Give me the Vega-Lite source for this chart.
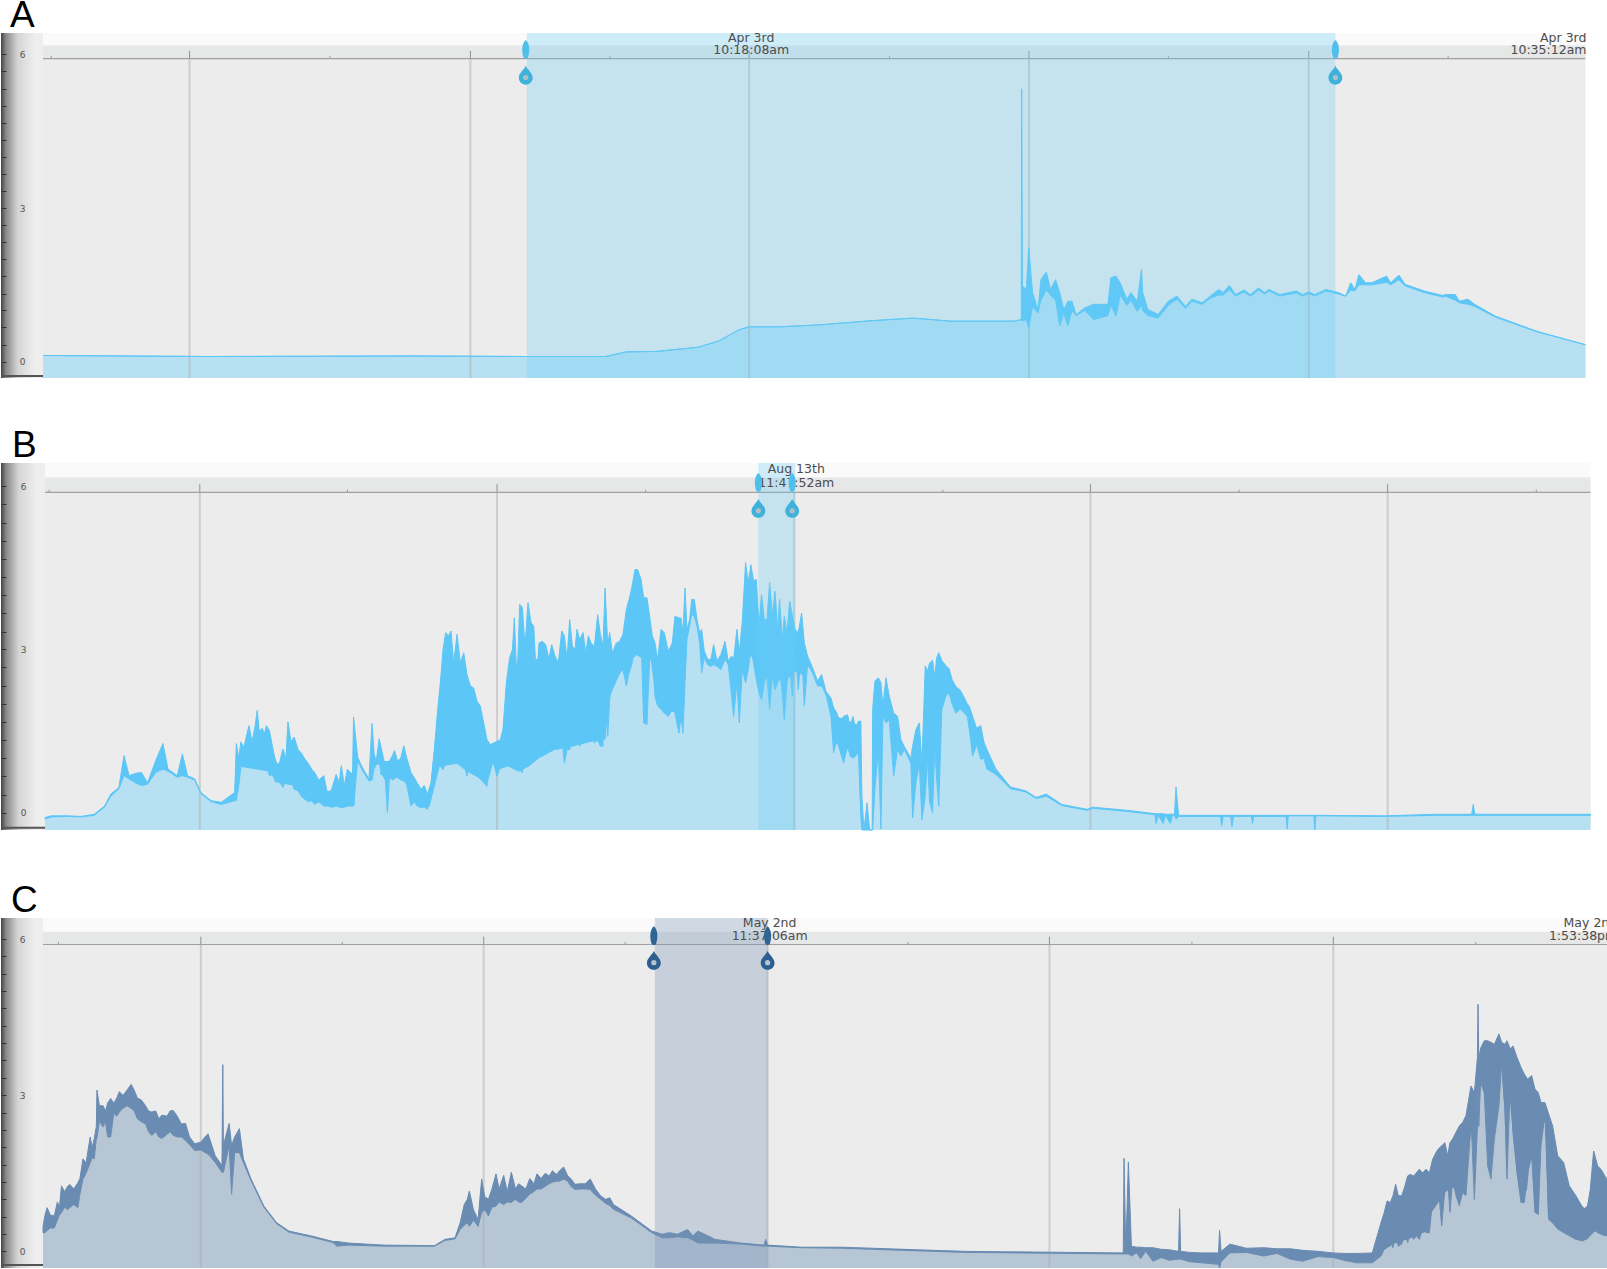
{"$schema":"https://vega.github.io/schema/vega-lite/v6.json","padding":{"top":-3,"left":0,"right":0,"bottom":0},"background":"white","bounds":"flush","spacing":85,
"datasets":{
"bCore":[{"seg":1,"t":232,"upper":1.0,"lower":0.85},{"seg":1,"t":262,"upper":1.2,"lower":0.75},{"seg":1,"t":270,"upper":0.9,"lower":0.55},{"seg":1,"t":285,"upper":1.1,"lower":0.5},{"seg":1,"t":300,"upper":0.7,"lower":0.25},{"seg":1,"t":315,"upper":0.4,"lower":0.15},{"seg":1,"t":345,"upper":0.4,"lower":0.13},{"seg":2,"t":370,"upper":0.95,"lower":0.7},{"seg":2,"t":385,"upper":0.95,"lower":0.65},{"seg":2,"t":395,"upper":0.95,"lower":0.55},{"seg":2,"t":405,"upper":0.45,"lower":0.2},{"seg":2,"t":418,"upper":0.3,"lower":0.1},{"seg":2,"t":428,"upper":2.2,"lower":0.85},{"seg":2,"t":445,"upper":2.6,"lower":0.9},{"seg":2,"t":455,"upper":2.2,"lower":0.75},{"seg":2,"t":465,"upper":1.7,"lower":0.65},{"seg":2,"t":474,"upper":1.2,"lower":0.5},{"seg":2,"t":480,"upper":1.2,"lower":0.9},{"seg":2,"t":487,"upper":1.2,"lower":0.8},{"seg":2,"t":495,"upper":2.2,"lower":0.85},{"seg":2,"t":505,"upper":2.8,"lower":0.75},{"seg":2,"t":515,"upper":2.9,"lower":0.85},{"seg":2,"t":525,"upper":2.8,"lower":1.0},{"seg":2,"t":540,"upper":2.6,"lower":1.15},{"seg":2,"t":555,"upper":2.8,"lower":1.2},{"seg":2,"t":575,"upper":2.9,"lower":1.3},{"seg":2,"t":590,"upper":2.9,"lower":1.35},{"seg":2,"t":593,"upper":2.9,"lower":2.1},{"seg":2,"t":605,"upper":3.0,"lower":2.6},{"seg":2,"t":620,"upper":3.6,"lower":2.9},{"seg":2,"t":628,"upper":3.5,"lower":2.8},{"seg":2,"t":634,"upper":3.2,"lower":2.8},{"seg":2,"t":640,"upper":2.7,"lower":2.0},{"seg":2,"t":650,"upper":2.8,"lower":1.85},{"seg":2,"t":660,"upper":3.0,"lower":1.85},{"seg":2,"t":667,"upper":3.1,"lower":2.2},{"seg":2,"t":668.5,"upper":3.0,"lower":3.0},{"seg":3,"t":725,"upper":3.5,"lower":2.8},{"seg":3,"t":735,"upper":3.7,"lower":2.9},{"seg":3,"t":745,"upper":3.4,"lower":2.5},{"seg":3,"t":755,"upper":3.4,"lower":2.45},{"seg":3,"t":765,"upper":3.1,"lower":2.4},{"seg":3,"t":775,"upper":3.1,"lower":2.6},{"seg":3,"t":785,"upper":2.9,"lower":2.5},{"seg":4,"t":812,"upper":1.8,"lower":1.3},{"seg":4,"t":838,"upper":1.6,"lower":1.05},{"seg":5,"t":903,"upper":2.5,"lower":1.7},{"seg":5,"t":916,"upper":2.5,"lower":1.9}],
"cCore":[{"seg":1,"t":1347,"upper":0.5,"lower":0.0},{"seg":1,"t":1360,"upper":0.9,"lower":0.15},{"seg":1,"t":1375,"upper":1.2,"lower":0.25},{"seg":1,"t":1393,"upper":1.3,"lower":0.4},{"seg":1,"t":1396,"upper":1.6,"lower":0.75},{"seg":1,"t":1410,"upper":1.8,"lower":1.15},{"seg":1,"t":1425,"upper":2.2,"lower":1.3},{"seg":1,"t":1435,"upper":2.8,"lower":2.3},{"seg":1,"t":1442,"upper":3.5,"lower":3.3},{"seg":1,"t":1450,"upper":3.7,"lower":2.9},{"seg":1,"t":1455,"upper":3.7,"lower":2.2},{"seg":1,"t":1461,"upper":3.7,"lower":3.3},{"seg":1,"t":1464,"upper":3.7,"lower":3.6},{"seg":1,"t":1467,"upper":3.7,"lower":2.7},{"seg":1,"t":1469,"upper":3.7,"lower":1.5},{"seg":1,"t":1471,"upper":3.6,"lower":3.2},{"seg":1,"t":1475,"upper":3.5,"lower":2.3},{"seg":1,"t":1479,"upper":3.4,"lower":1.5},{"seg":1,"t":1484,"upper":3.2,"lower":0.95},{"seg":1,"t":1489,"upper":3.0,"lower":1.2},{"seg":1,"t":1491,"upper":2.9,"lower":1.6},{"seg":1,"t":1494,"upper":2.9,"lower":1.85},{"seg":1,"t":1496.7,"upper":2.9,"lower":0.75},{"seg":1,"t":1500,"upper":2.8,"lower":0.72},{"seg":1,"t":1502,"upper":2.7,"lower":2.4},{"seg":1,"t":1507,"upper":2.6,"lower":2.5},{"seg":1,"t":1509.5,"upper":2.5,"lower":0.62},{"seg":1,"t":1520,"upper":1.7,"lower":0.43},{"seg":1,"t":1535,"upper":1.0,"lower":0.26},{"seg":1,"t":1547,"upper":0.8,"lower":0.22},{"seg":1,"t":1555,"upper":1.6,"lower":0.38},{"seg":1,"t":1568,"upper":1.3,"lower":0.32}],
"a":[{"t":41,"hi":0.12,"lo":0.12},{"t":200,"hi":0.1,"lo":0.1},{"t":400,"hi":0.11,"lo":0.11},{"t":512,"hi":0.1,"lo":0.1},{"t":590,"hi":0.1,"lo":0.1},{"t":610,"hi":0.19,"lo":0.19},{"t":640,"hi":0.2,"lo":0.2},{"t":680,"hi":0.28,"lo":0.28},{"t":700,"hi":0.4,"lo":0.4},{"t":720,"hi":0.62,"lo":0.62},{"t":730,"hi":0.68,"lo":0.68},{"t":760,"hi":0.68,"lo":0.68},{"t":800,"hi":0.72,"lo":0.72},{"t":850,"hi":0.8,"lo":0.8},{"t":890,"hi":0.85,"lo":0.85},{"t":927,"hi":0.79,"lo":0.79},{"t":988,"hi":0.79,"lo":0.79},{"t":995.5,"hi":0.82,"lo":0.82},{"t":995.9,"hi":5.33,"lo":0.8},{"t":996.7,"hi":1.48,"lo":0.8},{"t":1000.4,"hi":1.41,"lo":0.82},{"t":1002.8,"hi":2.23,"lo":0.66},{"t":1006.5,"hi":1.35,"lo":1.08},{"t":1011.8,"hi":1.02,"lo":0.95},{"t":1014.7,"hi":1.6,"lo":1.2},{"t":1020,"hi":1.75,"lo":1.4},{"t":1024,"hi":1.41,"lo":1.3},{"t":1029,"hi":1.6,"lo":1.2},{"t":1033,"hi":1.35,"lo":0.7},{"t":1037,"hi":1.02,"lo":0.95},{"t":1041,"hi":1.18,"lo":0.7},{"t":1045,"hi":1.18,"lo":1.0},{"t":1049,"hi":0.92,"lo":0.9},{"t":1057.6,"hi":1.05,"lo":1.0},{"t":1066,"hi":1.12,"lo":0.82},{"t":1080,"hi":1.12,"lo":0.9},{"t":1083,"hi":1.64,"lo":1.1},{"t":1088,"hi":1.67,"lo":0.89},{"t":1092,"hi":1.54,"lo":1.3},{"t":1098.5,"hi":1.22,"lo":1.1},{"t":1102.5,"hi":1.35,"lo":1.2},{"t":1108.7,"hi":1.18,"lo":0.98},{"t":1112.8,"hi":1.8,"lo":1.1},{"t":1114,"hi":1.35,"lo":1.0},{"t":1119,"hi":1.02,"lo":0.9},{"t":1129,"hi":0.92,"lo":0.85},{"t":1139,"hi":1.18,"lo":1.1},{"t":1147.5,"hi":1.28,"lo":1.22},{"t":1155.7,"hi":1.08,"lo":1.04},{"t":1162,"hi":1.22,"lo":1.18},{"t":1172,"hi":1.15,"lo":1.12},{"t":1180,"hi":1.28,"lo":1.24},{"t":1188,"hi":1.41,"lo":1.3},{"t":1192.5,"hi":1.35,"lo":1.3},{"t":1198.6,"hi":1.49,"lo":1.4},{"t":1204.7,"hi":1.31,"lo":1.28},{"t":1213,"hi":1.4,"lo":1.36},{"t":1219,"hi":1.31,"lo":1.28},{"t":1227,"hi":1.44,"lo":1.4},{"t":1233,"hi":1.35,"lo":1.32},{"t":1237,"hi":1.41,"lo":1.38},{"t":1247.6,"hi":1.31,"lo":1.28},{"t":1264,"hi":1.38,"lo":1.34},{"t":1270,"hi":1.31,"lo":1.28},{"t":1276,"hi":1.36,"lo":1.33},{"t":1282,"hi":1.31,"lo":1.28},{"t":1292.6,"hi":1.41,"lo":1.38},{"t":1305,"hi":1.35,"lo":1.32},{"t":1312,"hi":1.28,"lo":1.28},{"t":1317,"hi":1.54,"lo":1.4},{"t":1321,"hi":1.41,"lo":1.38},{"t":1325,"hi":1.7,"lo":1.5},{"t":1331.4,"hi":1.54,"lo":1.5},{"t":1337.5,"hi":1.54,"lo":1.5},{"t":1352,"hi":1.67,"lo":1.55},{"t":1356,"hi":1.54,"lo":1.5},{"t":1364,"hi":1.69,"lo":1.6},{"t":1370,"hi":1.51,"lo":1.48},{"t":1388.6,"hi":1.38,"lo":1.35},{"t":1407,"hi":1.29,"lo":1.26},{"t":1409,"hi":1.31,"lo":1.28},{"t":1419,"hi":1.31,"lo":1.2},{"t":1423,"hi":1.18,"lo":1.15},{"t":1431.5,"hi":1.22,"lo":1.12},{"t":1437.7,"hi":1.12,"lo":1.08},{"t":1458,"hi":0.89,"lo":0.87},{"t":1499,"hi":0.59,"lo":0.58},{"t":1546,"hi":0.33,"lo":0.33}],
"b":[{"t":43,"hi":-0.09,"lo":-0.12},{"t":49,"hi":-0.06,"lo":-0.08},{"t":65,"hi":-0.06,"lo":-0.07},{"t":78,"hi":-0.07,"lo":-0.08},{"t":91,"hi":-0.03,"lo":-0.05},{"t":101,"hi":0.12,"lo":0.1},{"t":107,"hi":0.34,"lo":0.3},{"t":115,"hi":0.46,"lo":0.44},{"t":120,"hi":1.05,"lo":0.68},{"t":125,"hi":0.68,"lo":0.62},{"t":131,"hi":0.72,"lo":0.55},{"t":137,"hi":0.74,"lo":0.5},{"t":143,"hi":0.55,"lo":0.52},{"t":151,"hi":0.96,"lo":0.74},{"t":158,"hi":1.27,"lo":0.8},{"t":163,"hi":0.8,"lo":0.76},{"t":172,"hi":0.68,"lo":0.65},{"t":177,"hi":1.08,"lo":0.68},{"t":182,"hi":0.68,"lo":0.65},{"t":189,"hi":0.62,"lo":0.6},{"t":195,"hi":0.37,"lo":0.35},{"t":205,"hi":0.22,"lo":0.2},{"t":215,"hi":0.19,"lo":0.15},{"t":228,"hi":0.37,"lo":0.22},{"t":229.6,"hi":1.27,"lo":0.22},{"t":232,"hi":1.0,"lo":0.5},{"t":234,"hi":1.3,"lo":0.83},{"t":237,"hi":1.2,"lo":1.0},{"t":240,"hi":1.45,"lo":0.9},{"t":242,"hi":1.6,"lo":0.86},{"t":245,"hi":1.3,"lo":0.95},{"t":248,"hi":1.6,"lo":0.9},{"t":250,"hi":1.88,"lo":0.86},{"t":252,"hi":1.5,"lo":0.95},{"t":255,"hi":1.55,"lo":0.9},{"t":257,"hi":1.45,"lo":0.8},{"t":259,"hi":1.6,"lo":0.85},{"t":262,"hi":1.5,"lo":0.68},{"t":265,"hi":1.2,"lo":0.7},{"t":268,"hi":0.93,"lo":0.56},{"t":271,"hi":0.85,"lo":0.6},{"t":275,"hi":1.17,"lo":0.46},{"t":278,"hi":1.0,"lo":0.6},{"t":280,"hi":1.67,"lo":0.56},{"t":283,"hi":1.3,"lo":0.6},{"t":286,"hi":1.39,"lo":0.43},{"t":290,"hi":1.15,"lo":0.4},{"t":293,"hi":1.1,"lo":0.3},{"t":296,"hi":1.0,"lo":0.25},{"t":300,"hi":0.9,"lo":0.2},{"t":303,"hi":0.8,"lo":0.22},{"t":306,"hi":0.74,"lo":0.15},{"t":310,"hi":0.6,"lo":0.2},{"t":315,"hi":0.68,"lo":0.12},{"t":319,"hi":0.3,"lo":0.12},{"t":323,"hi":0.45,"lo":0.1},{"t":327,"hi":0.7,"lo":0.12},{"t":330,"hi":0.55,"lo":0.1},{"t":332,"hi":0.86,"lo":0.09},{"t":335,"hi":0.5,"lo":0.1},{"t":338,"hi":0.8,"lo":0.12},{"t":341,"hi":0.74,"lo":0.12},{"t":343,"hi":0.7,"lo":0.12},{"t":344,"hi":1.76,"lo":0.12},{"t":348,"hi":1.02,"lo":0.95},{"t":352,"hi":0.85,"lo":0.8},{"t":359,"hi":0.62,"lo":0.58},{"t":362,"hi":1.64,"lo":0.6},{"t":364,"hi":1.1,"lo":0.8},{"t":366,"hi":0.93,"lo":0.88},{"t":369,"hi":1.36,"lo":0.9},{"t":372,"hi":1.1,"lo":0.7},{"t":375,"hi":0.85,"lo":0.6},{"t":377,"hi":0.8,"lo":0.0},{"t":379,"hi":0.95,"lo":0.65},{"t":382,"hi":1.05,"lo":0.6},{"t":384,"hi":1.14,"lo":0.62},{"t":387,"hi":0.95,"lo":0.7},{"t":390,"hi":1.0,"lo":0.6},{"t":393,"hi":1.23,"lo":0.62},{"t":396,"hi":1.0,"lo":0.5},{"t":400,"hi":0.74,"lo":0.12},{"t":403,"hi":0.65,"lo":0.2},{"t":406,"hi":0.55,"lo":0.12},{"t":410,"hi":0.43,"lo":0.09},{"t":413,"hi":0.5,"lo":0.1},{"t":416,"hi":0.34,"lo":0.06},{"t":419.6,"hi":0.55,"lo":0.27},{"t":422.9,"hi":1.16,"lo":0.67},{"t":426.1,"hi":1.9,"lo":0.91},{"t":428.7,"hi":2.39,"lo":0.85},{"t":431.3,"hi":3.0,"lo":0.79},{"t":433.9,"hi":3.31,"lo":0.91},{"t":436.5,"hi":3.25,"lo":1.16},{"t":439.1,"hi":3.34,"lo":0.91},{"t":441.7,"hi":2.75,"lo":1.53},{"t":445,"hi":3.28,"lo":0.91},{"t":448.2,"hi":2.75,"lo":0.91},{"t":451.5,"hi":2.94,"lo":0.91},{"t":454.7,"hi":2.54,"lo":0.67},{"t":458,"hi":2.33,"lo":0.91},{"t":461.2,"hi":2.29,"lo":0.85},{"t":464.5,"hi":2.05,"lo":0.73},{"t":467.7,"hi":1.96,"lo":0.67},{"t":471,"hi":1.65,"lo":0.55},{"t":474.2,"hi":1.34,"lo":0.48},{"t":477.5,"hi":1.25,"lo":1.16},{"t":480.7,"hi":1.28,"lo":0.91},{"t":484,"hi":1.31,"lo":0.67},{"t":487.2,"hi":1.34,"lo":0.85},{"t":489.8,"hi":1.53,"lo":1.22},{"t":493.1,"hi":2.39,"lo":1.4},{"t":496.3,"hi":2.85,"lo":1.65},{"t":499,"hi":3.0,"lo":1.4},{"t":500.9,"hi":3.58,"lo":1.77},{"t":503.5,"hi":2.39,"lo":0.91},{"t":506.1,"hi":3.83,"lo":0.79},{"t":508.7,"hi":3.77,"lo":0.73},{"t":511.3,"hi":3.06,"lo":1.77},{"t":514.2,"hi":3.86,"lo":2.39},{"t":517.2,"hi":3.49,"lo":2.08},{"t":519.8,"hi":3.43,"lo":0.97},{"t":522.4,"hi":2.45,"lo":1.1},{"t":525,"hi":3.12,"lo":1.53},{"t":528.2,"hi":3.15,"lo":1.77},{"t":531.5,"hi":3.09,"lo":1.16},{"t":534.7,"hi":2.82,"lo":1.16},{"t":537.3,"hi":3.09,"lo":1.71},{"t":540.6,"hi":2.88,"lo":1.59},{"t":543.8,"hi":2.75,"lo":1.16},{"t":547.1,"hi":3.34,"lo":1.4},{"t":549.7,"hi":3.25,"lo":0.91},{"t":552.3,"hi":2.82,"lo":1.16},{"t":554.9,"hi":3.55,"lo":1.16},{"t":557.5,"hi":3.06,"lo":1.4},{"t":560.1,"hi":3.0,"lo":1.34},{"t":562,"hi":3.37,"lo":1.53},{"t":564.6,"hi":3.18,"lo":1.22},{"t":567.9,"hi":3.31,"lo":1.34},{"t":570.5,"hi":2.94,"lo":1.4},{"t":573.1,"hi":3.25,"lo":1.4},{"t":575.7,"hi":3.12,"lo":1.83},{"t":579,"hi":3.06,"lo":1.28},{"t":582.2,"hi":3.64,"lo":1.34},{"t":584.8,"hi":3.28,"lo":1.22},{"t":587.4,"hi":3.06,"lo":1.22},{"t":589.4,"hi":4.13,"lo":2.75},{"t":592,"hi":3.09,"lo":1.4},{"t":593.9,"hi":3.31,"lo":2.08},{"t":596.5,"hi":2.94,"lo":2.39},{"t":600.4,"hi":3.12,"lo":2.48},{"t":603.7,"hi":3.15,"lo":2.57},{"t":606.9,"hi":3.28,"lo":2.63},{"t":610.2,"hi":3.74,"lo":2.33},{"t":612.8,"hi":3.92,"lo":2.57},{"t":615.4,"hi":4.13,"lo":2.72},{"t":618.6,"hi":4.47,"lo":3.06},{"t":621.2,"hi":4.47,"lo":2.94},{"t":624.5,"hi":4.29,"lo":3.25},{"t":627.1,"hi":3.95,"lo":1.65},{"t":630.3,"hi":3.95,"lo":1.62},{"t":632.9,"hi":3.61,"lo":2.82},{"t":635.5,"hi":3.25,"lo":2.94},{"t":638.1,"hi":3.12,"lo":2.14},{"t":640.7,"hi":2.82,"lo":1.96},{"t":644,"hi":3.37,"lo":1.9},{"t":647.2,"hi":3.31,"lo":1.83},{"t":651.1,"hi":2.97,"lo":1.77},{"t":655,"hi":3.12,"lo":1.9},{"t":657.6,"hi":3.61,"lo":1.83},{"t":661.5,"hi":3.58,"lo":1.46},{"t":663.5,"hi":3.58,"lo":1.77},{"t":665.4,"hi":3.31,"lo":1.46},{"t":667.4,"hi":4.13,"lo":2.39},{"t":669.3,"hi":3.37,"lo":3.18},{"t":671.9,"hi":3.55,"lo":3.43},{"t":673.9,"hi":3.92,"lo":3.64},{"t":676.5,"hi":3.92,"lo":3.61},{"t":679.1,"hi":3.55,"lo":3.43},{"t":681.7,"hi":3.31,"lo":3.12},{"t":683.6,"hi":3.37,"lo":2.57},{"t":686.2,"hi":2.97,"lo":2.85},{"t":689.5,"hi":2.82,"lo":2.72},{"t":692.7,"hi":2.82,"lo":2.69},{"t":695.3,"hi":3.09,"lo":2.72},{"t":698.6,"hi":2.79,"lo":2.69},{"t":702.5,"hi":2.91,"lo":2.63},{"t":706.4,"hi":3.15,"lo":2.82},{"t":709.6,"hi":2.79,"lo":2.72},{"t":712.9,"hi":2.88,"lo":2.14},{"t":714.8,"hi":2.82,"lo":1.77},{"t":718.1,"hi":3.37,"lo":2.39},{"t":720.4,"hi":2.94,"lo":1.65},{"t":723.3,"hi":3.52,"lo":2.63},{"t":726.5,"hi":4.6,"lo":2.39},{"t":729.1,"hi":4.23,"lo":2.63},{"t":731.7,"hi":4.56,"lo":3.0},{"t":734.3,"hi":4.26,"lo":2.75},{"t":737,"hi":4.29,"lo":2.45},{"t":739.6,"hi":3.43,"lo":2.2},{"t":742.1,"hi":4.01,"lo":2.08},{"t":744.8,"hi":3.55,"lo":2.39},{"t":747.4,"hi":3.55,"lo":2.51},{"t":750,"hi":4.23,"lo":1.9},{"t":752.6,"hi":3.61,"lo":2.51},{"t":755.2,"hi":4.07,"lo":2.26},{"t":757.8,"hi":3.37,"lo":2.39},{"t":759.7,"hi":3.92,"lo":2.69},{"t":762.3,"hi":3.18,"lo":2.2},{"t":764.3,"hi":3.61,"lo":1.71},{"t":766.9,"hi":3.31,"lo":2.39},{"t":769.5,"hi":3.89,"lo":2.75},{"t":772.1,"hi":3.64,"lo":2.14},{"t":774.7,"hi":3.37,"lo":3.12},{"t":777.9,"hi":3.31,"lo":2.26},{"t":781.2,"hi":3.67,"lo":3.0},{"t":783.8,"hi":3.12,"lo":1.96},{"t":787,"hi":2.88,"lo":2.72},{"t":791.9,"hi":2.66,"lo":2.57},{"t":796.8,"hi":2.42,"lo":2.33},{"t":800.7,"hi":2.54,"lo":2.33},{"t":804.9,"hi":2.23,"lo":2.17},{"t":809.8,"hi":2.11,"lo":1.77},{"t":812.4,"hi":1.93,"lo":1.1},{"t":815.6,"hi":1.83,"lo":1.34},{"t":818.2,"hi":1.65,"lo":1.16},{"t":822.1,"hi":1.77,"lo":0.91},{"t":826,"hi":1.8,"lo":1.22},{"t":828.6,"hi":1.59,"lo":1.04},{"t":831.3,"hi":1.77,"lo":1.0},{"t":833.9,"hi":1.53,"lo":1.04},{"t":836.5,"hi":1.68,"lo":1.16},{"t":839,"hi":1.68,"lo":-0.1},{"t":840,"hi":0.3,"lo":-0.32},{"t":842,"hi":-0.32,"lo":-0.32},{"t":845,"hi":0.18,"lo":-0.32},{"t":847.6,"hi":-0.32,"lo":-0.32},{"t":850,"hi":-0.32,"lo":-0.32},{"t":850.5,"hi":1.9,"lo":-0.32},{"t":852.7,"hi":2.42,"lo":0.42},{"t":856,"hi":2.48,"lo":1.16},{"t":858.6,"hi":2.39,"lo":-0.3},{"t":860.5,"hi":1.96,"lo":1.77},{"t":863.5,"hi":2.48,"lo":1.65},{"t":866.7,"hi":2.14,"lo":1.71},{"t":871,"hi":1.83,"lo":0.67},{"t":874.8,"hi":1.77,"lo":1.16},{"t":878.1,"hi":1.34,"lo":1.04},{"t":881.3,"hi":1.22,"lo":1.16},{"t":887.8,"hi":1.0,"lo":0.91},{"t":889.5,"hi":1.22,"lo":-0.1},{"t":892.7,"hi":1.53,"lo":0.55},{"t":896,"hi":1.65,"lo":0.91},{"t":898.6,"hi":0.9,"lo":-0.13},{"t":901.8,"hi":2.7,"lo":0.3},{"t":904,"hi":2.6,"lo":1.0},{"t":906,"hi":2.75,"lo":0.2},{"t":909,"hi":2.8,"lo":0.0},{"t":911,"hi":2.5,"lo":1.2},{"t":913,"hi":2.85,"lo":0.6},{"t":915,"hi":2.94,"lo":0.12},{"t":918,"hi":2.8,"lo":1.9},{"t":922,"hi":2.7,"lo":2.14},{"t":925,"hi":2.65,"lo":2.2},{"t":928,"hi":2.45,"lo":2.0},{"t":931.6,"hi":2.32,"lo":1.83},{"t":936,"hi":2.25,"lo":1.9},{"t":939,"hi":2.15,"lo":1.85},{"t":942.8,"hi":2.0,"lo":1.77},{"t":945,"hi":1.95,"lo":1.5},{"t":948,"hi":1.77,"lo":1.04},{"t":952,"hi":1.55,"lo":1.25},{"t":956,"hi":1.6,"lo":0.98},{"t":959,"hi":1.3,"lo":1.0},{"t":962,"hi":1.16,"lo":0.8},{"t":970.8,"hi":0.8,"lo":0.7},{"t":985,"hi":0.47,"lo":0.44},{"t":1000,"hi":0.4,"lo":0.38},{"t":1010,"hi":0.28,"lo":0.26},{"t":1020,"hi":0.34,"lo":0.3},{"t":1035,"hi":0.15,"lo":0.13},{"t":1060,"hi":0.06,"lo":0.04},{"t":1065,"hi":0.1,"lo":0.08},{"t":1100,"hi":0.04,"lo":0.02},{"t":1126,"hi":-0.02,"lo":-0.04},{"t":1127,"hi":-0.02,"lo":-0.2},{"t":1129,"hi":-0.02,"lo":-0.05},{"t":1134,"hi":-0.02,"lo":-0.2},{"t":1136,"hi":-0.03,"lo":-0.05},{"t":1141,"hi":-0.03,"lo":-0.2},{"t":1143,"hi":-0.03,"lo":-0.05},{"t":1145,"hi":-0.03,"lo":-0.05},{"t":1146.5,"hi":0.47,"lo":-0.12},{"t":1149,"hi":-0.05,"lo":-0.07},{"t":1190,"hi":-0.05,"lo":-0.07},{"t":1191,"hi":-0.05,"lo":-0.24},{"t":1192.5,"hi":-0.05,"lo":-0.07},{"t":1200,"hi":-0.05,"lo":-0.07},{"t":1201,"hi":-0.05,"lo":-0.26},{"t":1202.5,"hi":-0.05,"lo":-0.07},{"t":1220,"hi":-0.05,"lo":-0.07},{"t":1221,"hi":-0.05,"lo":-0.2},{"t":1222.5,"hi":-0.05,"lo":-0.07},{"t":1254,"hi":-0.05,"lo":-0.07},{"t":1255,"hi":-0.05,"lo":-0.3},{"t":1256,"hi":-0.05,"lo":-0.06},{"t":1281,"hi":-0.05,"lo":-0.06},{"t":1282,"hi":-0.05,"lo":-0.32},{"t":1283,"hi":-0.05,"lo":-0.06},{"t":1350,"hi":-0.06,"lo":-0.07},{"t":1400,"hi":-0.03,"lo":-0.05},{"t":1435,"hi":-0.03,"lo":-0.05},{"t":1436.5,"hi":0.15,"lo":-0.05},{"t":1438,"hi":-0.03,"lo":-0.05},{"t":1551,"hi":-0.03,"lo":-0.05}],
"c":[{"t":41,"hi":0.48,"lo":0.36},{"t":43,"hi":0.7,"lo":0.36},{"t":45,"hi":0.84,"lo":0.4},{"t":48,"hi":0.7,"lo":0.45},{"t":52,"hi":0.68,"lo":0.45},{"t":55,"hi":0.95,"lo":0.6},{"t":57,"hi":0.85,"lo":0.7},{"t":59,"hi":1.26,"lo":0.74},{"t":62,"hi":1.15,"lo":0.85},{"t":65,"hi":1.25,"lo":0.8},{"t":67,"hi":1.29,"lo":0.84},{"t":71,"hi":1.2,"lo":0.9},{"t":75,"hi":1.32,"lo":0.84},{"t":77,"hi":1.4,"lo":1.1},{"t":80,"hi":1.78,"lo":1.39},{"t":83,"hi":1.7,"lo":1.5},{"t":87,"hi":2.2,"lo":1.7},{"t":89,"hi":2.0,"lo":1.8},{"t":91,"hi":2.17,"lo":1.78},{"t":93,"hi":2.4,"lo":2.17},{"t":93.6,"hi":3.1,"lo":2.17},{"t":96,"hi":2.8,"lo":2.5},{"t":99.6,"hi":2.8,"lo":2.39},{"t":102,"hi":2.7,"lo":2.5},{"t":104,"hi":2.85,"lo":2.2},{"t":107,"hi":2.94,"lo":2.2},{"t":110,"hi":2.85,"lo":2.65},{"t":113,"hi":2.95,"lo":2.6},{"t":115.5,"hi":3.07,"lo":2.68},{"t":119,"hi":3.0,"lo":2.75},{"t":123,"hi":3.1,"lo":2.8},{"t":127,"hi":3.21,"lo":2.75},{"t":130,"hi":3.1,"lo":2.7},{"t":133,"hi":2.95,"lo":2.55},{"t":137,"hi":2.91,"lo":2.49},{"t":141,"hi":2.8,"lo":2.45},{"t":144,"hi":2.7,"lo":2.3},{"t":147,"hi":2.68,"lo":2.23},{"t":151,"hi":2.7,"lo":2.3},{"t":154,"hi":2.55,"lo":2.2},{"t":157,"hi":2.62,"lo":2.17},{"t":162,"hi":2.6,"lo":2.25},{"t":165,"hi":2.7,"lo":2.3},{"t":168,"hi":2.71,"lo":2.23},{"t":172,"hi":2.6,"lo":2.2},{"t":176,"hi":2.45,"lo":2.2},{"t":180,"hi":2.46,"lo":2.13},{"t":184,"hi":2.2,"lo":2.05},{"t":189,"hi":2.07,"lo":1.94},{"t":195,"hi":2.1,"lo":1.95},{"t":199,"hi":2.2,"lo":1.9},{"t":202,"hi":2.26,"lo":1.87},{"t":209,"hi":1.84,"lo":1.71},{"t":215.6,"hi":1.65,"lo":1.52},{"t":216.4,"hi":3.59,"lo":1.52},{"t":217,"hi":2.04,"lo":1.52},{"t":222.6,"hi":2.46,"lo":2.04},{"t":225,"hi":2.04,"lo":1.1},{"t":228,"hi":2.2,"lo":1.9},{"t":232.6,"hi":2.36,"lo":1.9},{"t":236.5,"hi":1.78,"lo":1.71},{"t":244,"hi":1.39,"lo":1.36},{"t":256.5,"hi":0.87,"lo":0.85},{"t":269,"hi":0.55,"lo":0.53},{"t":281,"hi":0.39,"lo":0.37},{"t":304,"hi":0.29,"lo":0.27},{"t":324,"hi":0.19,"lo":0.17},{"t":327.7,"hi":0.19,"lo":0.1},{"t":338.6,"hi":0.16,"lo":0.12},{"t":373.5,"hi":0.12,"lo":0.1},{"t":423,"hi":0.11,"lo":0.1},{"t":433,"hi":0.23,"lo":0.21},{"t":443,"hi":0.26,"lo":0.24},{"t":448,"hi":0.55,"lo":0.42},{"t":452,"hi":0.9,"lo":0.5},{"t":455,"hi":1.0,"lo":0.55},{"t":457,"hi":1.16,"lo":0.48},{"t":461,"hi":0.8,"lo":0.6},{"t":465.6,"hi":0.61,"lo":0.48},{"t":467,"hi":0.95,"lo":0.6},{"t":469,"hi":1.39,"lo":0.74},{"t":472,"hi":1.05,"lo":0.8},{"t":475.6,"hi":1.0,"lo":0.68},{"t":479,"hi":1.2,"lo":0.85},{"t":483,"hi":1.49,"lo":0.87},{"t":486,"hi":1.2,"lo":0.95},{"t":490.5,"hi":1.46,"lo":0.9},{"t":494,"hi":1.15,"lo":0.95},{"t":498,"hi":1.52,"lo":0.94},{"t":502,"hi":1.2,"lo":1.0},{"t":505,"hi":1.3,"lo":0.95},{"t":508,"hi":1.26,"lo":0.94},{"t":512,"hi":1.2,"lo":1.02},{"t":516,"hi":1.4,"lo":1.1},{"t":520,"hi":1.3,"lo":1.15},{"t":523,"hi":1.49,"lo":1.2},{"t":527,"hi":1.4,"lo":1.2},{"t":531,"hi":1.5,"lo":1.25},{"t":535,"hi":1.45,"lo":1.3},{"t":538,"hi":1.55,"lo":1.33},{"t":542,"hi":1.48,"lo":1.35},{"t":545,"hi":1.55,"lo":1.35},{"t":549,"hi":1.62,"lo":1.39},{"t":553,"hi":1.45,"lo":1.35},{"t":556,"hi":1.4,"lo":1.25},{"t":560,"hi":1.29,"lo":1.19},{"t":565,"hi":1.3,"lo":1.2},{"t":570,"hi":1.3,"lo":1.2},{"t":575,"hi":1.39,"lo":1.19},{"t":580,"hi":1.2,"lo":1.08},{"t":585,"hi":1.07,"lo":1.0},{"t":590,"hi":1.0,"lo":0.92},{"t":594,"hi":1.03,"lo":0.88},{"t":597.6,"hi":0.9,"lo":0.81},{"t":615,"hi":0.68,"lo":0.64},{"t":635,"hi":0.39,"lo":0.36},{"t":645,"hi":0.33,"lo":0.26},{"t":652,"hi":0.36,"lo":0.26},{"t":660,"hi":0.33,"lo":0.28},{"t":670,"hi":0.42,"lo":0.26},{"t":675,"hi":0.3,"lo":0.22},{"t":680,"hi":0.39,"lo":0.16},{"t":697,"hi":0.23,"lo":0.16},{"t":722,"hi":0.16,"lo":0.14},{"t":744.5,"hi":0.12,"lo":0.1},{"t":746,"hi":0.23,"lo":0.1},{"t":748,"hi":0.12,"lo":0.1},{"t":781,"hi":0.08,"lo":0.07},{"t":820,"hi":0.08,"lo":0.06},{"t":940,"hi":0.0,"lo":-0.02},{"t":1095,"hi":-0.03,"lo":-0.05},{"t":1095.8,"hi":1.79,"lo":-0.05},{"t":1097.5,"hi":-0.03,"lo":-0.05},{"t":1100,"hi":1.72,"lo":-0.05},{"t":1103,"hi":0.1,"lo":-0.09},{"t":1108,"hi":0.08,"lo":-0.03},{"t":1112,"hi":0.08,"lo":-0.14},{"t":1117,"hi":0.07,"lo":0.0},{"t":1124,"hi":0.07,"lo":-0.19},{"t":1132,"hi":0.04,"lo":-0.12},{"t":1140,"hi":0.03,"lo":-0.17},{"t":1149,"hi":0.0,"lo":-0.15},{"t":1150,"hi":0.82,"lo":-0.15},{"t":1151,"hi":0.0,"lo":-0.15},{"t":1160,"hi":-0.02,"lo":-0.2},{"t":1171.6,"hi":-0.03,"lo":-0.22},{"t":1188,"hi":-0.03,"lo":-0.25},{"t":1189,"hi":0.4,"lo":-0.32},{"t":1190.5,"hi":0.0,"lo":-0.2},{"t":1199,"hi":0.14,"lo":-0.03},{"t":1215,"hi":0.06,"lo":-0.02},{"t":1232,"hi":0.07,"lo":-0.09},{"t":1245,"hi":0.05,"lo":-0.04},{"t":1258,"hi":0.05,"lo":-0.15},{"t":1270,"hi":0.02,"lo":-0.19},{"t":1285,"hi":0.0,"lo":-0.1},{"t":1300,"hi":-0.03,"lo":-0.12},{"t":1312,"hi":-0.04,"lo":-0.18},{"t":1323,"hi":-0.04,"lo":-0.22},{"t":1338,"hi":-0.03,"lo":-0.22},{"t":1346.5,"hi":0.55,"lo":-0.09},{"t":1349.7,"hi":0.75,"lo":0.04},{"t":1352.4,"hi":0.97,"lo":0.07},{"t":1355.6,"hi":0.94,"lo":0.23},{"t":1358.2,"hi":1.07,"lo":0.07},{"t":1360.8,"hi":1.29,"lo":0.36},{"t":1363.4,"hi":1.07,"lo":0.1},{"t":1366.7,"hi":1.07,"lo":0.14},{"t":1369.9,"hi":1.26,"lo":0.36},{"t":1372.5,"hi":1.45,"lo":0.17},{"t":1375.1,"hi":1.48,"lo":0.36},{"t":1378.4,"hi":1.45,"lo":0.23},{"t":1381,"hi":1.51,"lo":0.3},{"t":1383.9,"hi":1.58,"lo":0.23},{"t":1387.1,"hi":1.51,"lo":0.43},{"t":1390.4,"hi":1.58,"lo":0.36},{"t":1393.7,"hi":1.51,"lo":0.36},{"t":1396.9,"hi":1.77,"lo":1.0},{"t":1400.2,"hi":1.9,"lo":1.0},{"t":1402.4,"hi":1.97,"lo":1.26},{"t":1405.7,"hi":2.03,"lo":0.49},{"t":1408.9,"hi":2.09,"lo":1.19},{"t":1411.5,"hi":1.84,"lo":1.39},{"t":1413.8,"hi":2.09,"lo":0.75},{"t":1416.4,"hi":2.16,"lo":1.39},{"t":1419.7,"hi":2.29,"lo":1.07},{"t":1422.9,"hi":2.41,"lo":0.88},{"t":1426.2,"hi":2.48,"lo":1.13},{"t":1429.4,"hi":2.61,"lo":1.07},{"t":1432.7,"hi":2.99,"lo":2.0},{"t":1434.3,"hi":3.18,"lo":2.61},{"t":1437.6,"hi":3.05,"lo":1.0},{"t":1440.6,"hi":3.73,"lo":2.4},{"t":1441.2,"hi":4.75,"lo":3.4},{"t":1441.9,"hi":3.73,"lo":2.4},{"t":1444,"hi":3.92,"lo":3.41},{"t":1447.3,"hi":4.05,"lo":3.05},{"t":1450.6,"hi":4.05,"lo":1.64},{"t":1453.8,"hi":4.02,"lo":1.39},{"t":1457.1,"hi":3.98,"lo":2.16},{"t":1461.6,"hi":4.18,"lo":2.8},{"t":1464.2,"hi":4.02,"lo":3.63},{"t":1467.5,"hi":3.98,"lo":2.73},{"t":1469.4,"hi":4.05,"lo":1.39},{"t":1472.7,"hi":3.89,"lo":3.25},{"t":1475.3,"hi":3.95,"lo":2.29},{"t":1479.2,"hi":3.73,"lo":1.52},{"t":1483.1,"hi":3.54,"lo":0.94},{"t":1486.3,"hi":3.41,"lo":0.94},{"t":1489.6,"hi":3.31,"lo":1.52},{"t":1493.5,"hi":3.38,"lo":1.84},{"t":1496.7,"hi":3.12,"lo":0.75},{"t":1500,"hi":3.05,"lo":0.71},{"t":1502.6,"hi":2.86,"lo":2.03},{"t":1506.5,"hi":2.86,"lo":2.64},{"t":1510.1,"hi":2.64,"lo":0.62},{"t":1514,"hi":2.41,"lo":0.55},{"t":1518.9,"hi":1.84,"lo":0.43},{"t":1524.7,"hi":1.71,"lo":0.36},{"t":1530.2,"hi":1.26,"lo":0.3},{"t":1536.7,"hi":1.07,"lo":0.23},{"t":1544.2,"hi":0.81,"lo":0.2},{"t":1548.1,"hi":0.87,"lo":0.3},{"t":1550.7,"hi":1.19,"lo":0.36},{"t":1554,"hi":1.93,"lo":0.43},{"t":1557.9,"hi":1.64,"lo":0.36},{"t":1561.1,"hi":1.58,"lo":0.33},{"t":1565,"hi":1.45,"lo":0.3},{"t":1567.6,"hi":1.36,"lo":0.3}]
},
"vconcat":[
{"width":1607,"height":345,
"title":{"text":"A","anchor":"start","frame":"group","font":"Liberation Sans","fontSize":37,"fontWeight":"normal","color":"#000","offset":-2,"dx":9},
"layer":[
{"data":{"values":[{"t0":0,"t1":41,"v0":-0.32,"v1":6.42}]},"mark":{"type":"rect","fill":{"x1":0,"x2":1,"y1":0,"y2":0,"gradient":"linear","stops":[{"offset":0,"color":"#444444"},{"offset":0.12,"color":"#8a8a8a"},{"offset":0.4,"color":"#d5d5d5"},{"offset":0.8,"color":"#eeeeee"},{"offset":1,"color":"#eeeeee"}]}},"encoding":{"x":{"field":"t0","type":"quantitative","scale":{"domain":[0,1568],"nice":false},"axis":null},"x2":{"field":"t1"},"y":{"field":"v0","type":"quantitative","scale":{"domain":[-0.32,6.42],"nice":false,"zero":false},"axis":{"title":null,"values":[0,0.33,0.67,1,1.33,1.67,2,2.33,2.67,3,3.33,3.67,4,4.33,4.67,5,5.33,5.67,6],"tickCount":40,"labelExpr":"datum.value==0?'0':datum.value==3?'3':datum.value==6?'6':''","labelFlush":false,"labelOverlap":false,"grid":false,"domain":false,"offset":-5,"tickSize":5,"tickWidth":1,"tickColor":"#333","labelAlign":"center","labelPadding":-21,"labelFont":"DejaVu Sans","labelFontSize":9,"labelColor":"#555","zindex":1}},"y2":{"field":"v1"}}},
{"data":{"values":[{"t0":41,"t1":1546,"v0":-0.32,"v1":5.92,"s":"plot"},{"t0":41,"t1":1546,"v0":5.92,"v1":6.18,"s":"strip"},{"t0":41,"t1":1546,"v0":6.18,"v1":6.42,"s":"head"}]},"mark":{"type":"rect"},"encoding":{"x":{"field":"t0","type":"quantitative"},"x2":{"field":"t1"},"y":{"field":"v0","type":"quantitative"},"y2":{"field":"v1"},"fill":{"field":"s","type":"nominal","scale":{"domain":["plot","strip","head"],"range":["#ececec","#e6e7e7","#fafafa"]},"legend":null}}},
{"data":{"name":"a"},"mark":{"type":"area","fill":"#b8e0f3"},"encoding":{"x":{"field":"t","type":"quantitative"},"y":{"field":"lo","type":"quantitative"},"y2":{"datum":-0.32}}},
{"data":{"values":[{"t":184},{"t":458},{"t":730},{"t":1003},{"t":1276}]},"mark":{"type":"rule","color":"#a8a8a8","strokeWidth":2,"opacity":0.45},"encoding":{"x":{"field":"t","type":"quantitative"},"y":{"datum":-0.32},"y2":{"datum":5.92}}},
{"data":{"values":[{"t":184},{"t":458},{"t":730},{"t":1003},{"t":1276}]},"mark":{"type":"rule","color":"#8f8f8f","strokeWidth":1},"encoding":{"x":{"field":"t","type":"quantitative"},"y":{"datum":5.92},"y2":{"datum":6.07}}},
{"data":{"values":[{"t":49},{"t":321},{"t":594},{"t":867},{"t":1139},{"t":1412}]},"mark":{"type":"rule","color":"#999","strokeWidth":1},"encoding":{"x":{"field":"t","type":"quantitative"},"y":{"datum":5.92},"y2":{"datum":5.97}}},
{"data":{"values":[{"t0":41,"t1":1546}]},"mark":{"type":"rule","color":"#a0a0a0","strokeWidth":1.2},"encoding":{"x":{"field":"t0","type":"quantitative"},"x2":{"field":"t1"},"y":{"datum":5.92}}},
{"data":{"name":"a"},"mark":{"type":"area","fill":"#5cc6f7","stroke":"#5cc6f7","strokeWidth":1},"encoding":{"x":{"field":"t","type":"quantitative"},"y":{"field":"hi","type":"quantitative"},"y2":{"field":"lo"}}},
{"data":{"values":[{"t0":513,"t1":1302}]},"mark":{"type":"rect","fill":"#6acef6","opacity":0.3},"encoding":{"x":{"field":"t0","type":"quantitative"},"x2":{"field":"t1"},"y":{"datum":-0.32},"y2":{"datum":6.42}}},
{"data":{"values":[{"t":732,"v":6.32,"label":"Apr 3rd"},{"t":732,"v":6.08,"label":"10:18:08am"}]},"mark":{"type":"text","font":"DejaVu Sans","fontSize":12.5,"color":"#4d4d4d","align":"center","baseline":"middle","clip":true},"encoding":{"x":{"field":"t","type":"quantitative"},"y":{"field":"v","type":"quantitative"},"text":{"field":"label"}}},
{"data":{"values":[{"t":1547,"v":6.32,"label":"Apr 3rd"},{"t":1547,"v":6.08,"label":"10:35:12am"}]},"mark":{"type":"text","font":"DejaVu Sans","fontSize":12.5,"color":"#4d4d4d","align":"right","baseline":"middle","clip":true},"encoding":{"x":{"field":"t","type":"quantitative"},"y":{"field":"v","type":"quantitative"},"text":{"field":"label"}}},
{"data":{"values":[{"t":512,"v":6.1},{"t":1302,"v":6.1}]},"mark":{"type":"point","filled":true,"opacity":1,"color":"#4fc0ea","size":360,"shape":"M0,-1 C0.45,-0.6 0.45,0.2 0.22,0.9 L0,1 L-0.22,0.9 C-0.45,0.2 -0.45,-0.6 0,-1Z"},"encoding":{"x":{"field":"t","type":"quantitative"},"y":{"field":"v","type":"quantitative"}}},
{"data":{"values":[{"t":512,"v":5.6},{"t":1302,"v":5.6}]},"mark":{"type":"point","filled":true,"opacity":1,"color":"#3fb2dc","size":340,"shape":"M0,-1 C0.25,-0.5 0.75,-0.2 0.75,0.3 A0.75,0.75 0 1 1 -0.75,0.3 C-0.75,-0.2 -0.25,-0.5 0,-1Z"},"encoding":{"x":{"field":"t","type":"quantitative"},"y":{"field":"v","type":"quantitative"}}},
{"data":{"values":[{"t":512,"v":5.55},{"t":1302,"v":5.55}]},"mark":{"type":"point","filled":true,"opacity":1,"color":"#aebfc6","size":28,"shape":"circle"},"encoding":{"x":{"field":"t","type":"quantitative"},"y":{"field":"v","type":"quantitative"}}},
{"data":{"values":[{"t0":0,"t1":41}]},"mark":{"type":"rule","color":"#555","strokeWidth":2},"encoding":{"x":{"field":"t0","type":"quantitative"},"x2":{"field":"t1"},"y":{"datum":-0.28}}}
]},
{"width":1607,"height":370,
"title":{"text":"B","anchor":"start","frame":"group","font":"Liberation Sans","fontSize":37,"fontWeight":"normal","color":"#000","offset":-2,"dx":11},
"layer":[
{"data":{"values":[{"t0":0,"t1":43,"v0":-0.32,"v1":6.43}]},"mark":{"type":"rect","fill":{"x1":0,"x2":1,"y1":0,"y2":0,"gradient":"linear","stops":[{"offset":0,"color":"#444444"},{"offset":0.12,"color":"#8a8a8a"},{"offset":0.4,"color":"#d5d5d5"},{"offset":0.8,"color":"#eeeeee"},{"offset":1,"color":"#eeeeee"}]}},"encoding":{"x":{"field":"t0","type":"quantitative","scale":{"domain":[0,1568],"nice":false},"axis":null},"x2":{"field":"t1"},"y":{"field":"v0","type":"quantitative","scale":{"domain":[-0.375,6.43],"nice":false,"zero":false},"axis":{"title":null,"values":[0,0.33,0.67,1,1.33,1.67,2,2.33,2.67,3,3.33,3.67,4,4.33,4.67,5,5.33,5.67,6],"tickCount":40,"labelExpr":"datum.value==0?'0':datum.value==3?'3':datum.value==6?'6':''","labelFlush":false,"labelOverlap":false,"grid":false,"domain":false,"offset":-5,"tickSize":5,"tickWidth":1,"tickColor":"#333","labelAlign":"center","labelPadding":-22,"labelFont":"DejaVu Sans","labelFontSize":9,"labelColor":"#555","zindex":1}},"y2":{"field":"v1"}}},
{"data":{"values":[{"t0":43,"t1":1551,"v0":-0.32,"v1":5.89,"s":"plot"},{"t0":43,"t1":1551,"v0":5.89,"v1":6.17,"s":"strip"},{"t0":43,"t1":1551,"v0":6.17,"v1":6.43,"s":"head"}]},"mark":{"type":"rect"},"encoding":{"x":{"field":"t0","type":"quantitative"},"x2":{"field":"t1"},"y":{"field":"v0","type":"quantitative"},"y2":{"field":"v1"},"fill":{"field":"s","type":"nominal","scale":{"domain":["plot","strip","head"],"range":["#ececec","#e6e7e7","#fafafa"]},"legend":null}}},
{"data":{"name":"b"},"mark":{"type":"area","fill":"#b8e0f3"},"encoding":{"x":{"field":"t","type":"quantitative"},"y":{"field":"lo","type":"quantitative"},"y2":{"datum":-0.32}}},
{"data":{"values":[{"t":194},{"t":484},{"t":774},{"t":1063},{"t":1353}]},"mark":{"type":"rule","color":"#a8a8a8","strokeWidth":2,"opacity":0.45},"encoding":{"x":{"field":"t","type":"quantitative"},"y":{"datum":-0.32},"y2":{"datum":5.89}}},
{"data":{"values":[{"t":194},{"t":484},{"t":1063},{"t":1353}]},"mark":{"type":"rule","color":"#8f8f8f","strokeWidth":1},"encoding":{"x":{"field":"t","type":"quantitative"},"y":{"datum":5.89},"y2":{"datum":6.04}}},
{"data":{"values":[{"t":47},{"t":338},{"t":629},{"t":919},{"t":1208},{"t":1498}]},"mark":{"type":"rule","color":"#999","strokeWidth":1},"encoding":{"x":{"field":"t","type":"quantitative"},"y":{"datum":5.89},"y2":{"datum":5.94}}},
{"data":{"values":[{"t0":43,"t1":1551}]},"mark":{"type":"rule","color":"#a0a0a0","strokeWidth":1.2},"encoding":{"x":{"field":"t0","type":"quantitative"},"x2":{"field":"t1"},"y":{"datum":5.89}}},
{"data":{"name":"bCore"},"mark":{"type":"area","fill":"#5cc6f7"},"encoding":{"x":{"field":"t","type":"quantitative"},"y":{"field":"upper","type":"quantitative"},"y2":{"field":"lower"},"detail":{"field":"seg","type":"nominal"}}},
{"data":{"name":"b"},"mark":{"type":"area","fill":"#5cc6f7","stroke":"#5cc6f7","strokeWidth":1},"encoding":{"x":{"field":"t","type":"quantitative"},"y":{"field":"hi","type":"quantitative"},"y2":{"field":"lo"}}},
{"data":{"values":[{"t0":739,"t1":775}]},"mark":{"type":"rect","fill":"#6acef6","opacity":0.3},"encoding":{"x":{"field":"t0","type":"quantitative"},"x2":{"field":"t1"},"y":{"datum":-0.32},"y2":{"datum":6.43}}},
{"data":{"values":[{"t":776,"v":6.32,"label":"Aug 13th"},{"t":776,"v":6.06,"label":"11:47:52am"}]},"mark":{"type":"text","font":"DejaVu Sans","fontSize":12.5,"color":"#4d4d4d","align":"center","baseline":"middle","clip":true},"encoding":{"x":{"field":"t","type":"quantitative"},"y":{"field":"v","type":"quantitative"},"text":{"field":"label"}}},
{"data":{"values":[{"t":739,"v":6.07},{"t":772,"v":6.07}]},"mark":{"type":"point","filled":true,"opacity":1,"color":"#4fc0ea","size":360,"shape":"M0,-1 C0.45,-0.6 0.45,0.2 0.22,0.9 L0,1 L-0.22,0.9 C-0.45,0.2 -0.45,-0.6 0,-1Z"},"encoding":{"x":{"field":"t","type":"quantitative"},"y":{"field":"v","type":"quantitative"}}},
{"data":{"values":[{"t":739,"v":5.6},{"t":772,"v":5.6}]},"mark":{"type":"point","filled":true,"opacity":1,"color":"#3fb2dc","size":340,"shape":"M0,-1 C0.25,-0.5 0.75,-0.2 0.75,0.3 A0.75,0.75 0 1 1 -0.75,0.3 C-0.75,-0.2 -0.25,-0.5 0,-1Z"},"encoding":{"x":{"field":"t","type":"quantitative"},"y":{"field":"v","type":"quantitative"}}},
{"data":{"values":[{"t":739,"v":5.55},{"t":772,"v":5.55}]},"mark":{"type":"point","filled":true,"opacity":1,"color":"#aebfc6","size":28,"shape":"circle"},"encoding":{"x":{"field":"t","type":"quantitative"},"y":{"field":"v","type":"quantitative"}}},
{"data":{"values":[{"t0":0,"t1":43}]},"mark":{"type":"rule","color":"#555","strokeWidth":2},"encoding":{"x":{"field":"t0","type":"quantitative"},"x2":{"field":"t1"},"y":{"datum":-0.28}}}
]},
{"width":1607,"height":350,
"title":{"text":"C","anchor":"start","frame":"group","font":"Liberation Sans","fontSize":37,"fontWeight":"normal","color":"#000","offset":-2,"dx":10},
"layer":[
{"data":{"values":[{"t0":0,"t1":41,"v0":-0.32,"v1":6.41}]},"mark":{"type":"rect","fill":{"x1":0,"x2":1,"y1":0,"y2":0,"gradient":"linear","stops":[{"offset":0,"color":"#444444"},{"offset":0.12,"color":"#8a8a8a"},{"offset":0.4,"color":"#d5d5d5"},{"offset":0.8,"color":"#eeeeee"},{"offset":1,"color":"#eeeeee"}]}},"encoding":{"x":{"field":"t0","type":"quantitative","scale":{"domain":[0,1568],"nice":false},"axis":null},"x2":{"field":"t1"},"y":{"field":"v0","type":"quantitative","scale":{"domain":[-0.32,6.41],"nice":false,"zero":false},"axis":{"title":null,"values":[0,0.33,0.67,1,1.33,1.67,2,2.33,2.67,3,3.33,3.67,4,4.33,4.67,5,5.33,5.67,6],"tickCount":40,"labelExpr":"datum.value==0?'0':datum.value==3?'3':datum.value==6?'6':''","labelFlush":false,"labelOverlap":false,"grid":false,"domain":false,"offset":-5,"tickSize":5,"tickWidth":1,"tickColor":"#333","labelAlign":"center","labelPadding":-21,"labelFont":"DejaVu Sans","labelFontSize":9,"labelColor":"#555","zindex":1}},"y2":{"field":"v1"}}},
{"data":{"values":[{"t0":41,"t1":1568,"v0":-0.32,"v1":5.9,"s":"plot"},{"t0":41,"t1":1568,"v0":5.9,"v1":6.15,"s":"strip"},{"t0":41,"t1":1568,"v0":6.15,"v1":6.41,"s":"head"}]},"mark":{"type":"rect"},"encoding":{"x":{"field":"t0","type":"quantitative"},"x2":{"field":"t1"},"y":{"field":"v0","type":"quantitative"},"y2":{"field":"v1"},"fill":{"field":"s","type":"nominal","scale":{"domain":["plot","strip","head"],"range":["#ececec","#e6e7e7","#fafafa"]},"legend":null}}},
{"data":{"name":"c"},"mark":{"type":"area","fill":"#b7c6d5"},"encoding":{"x":{"field":"t","type":"quantitative"},"y":{"field":"lo","type":"quantitative"},"y2":{"datum":-0.32}}},
{"data":{"values":[{"t":195},{"t":471},{"t":748},{"t":1023},{"t":1300}]},"mark":{"type":"rule","color":"#a8a8a8","strokeWidth":2,"opacity":0.45},"encoding":{"x":{"field":"t","type":"quantitative"},"y":{"datum":-0.32},"y2":{"datum":5.9}}},
{"data":{"values":[{"t":195},{"t":471},{"t":1023},{"t":1300}]},"mark":{"type":"rule","color":"#8f8f8f","strokeWidth":1},"encoding":{"x":{"field":"t","type":"quantitative"},"y":{"datum":5.9},"y2":{"datum":6.05}}},
{"data":{"values":[{"t":56},{"t":333},{"t":609},{"t":885},{"t":1162},{"t":1439}]},"mark":{"type":"rule","color":"#999","strokeWidth":1},"encoding":{"x":{"field":"t","type":"quantitative"},"y":{"datum":5.9},"y2":{"datum":5.95}}},
{"data":{"values":[{"t0":41,"t1":1568}]},"mark":{"type":"rule","color":"#a0a0a0","strokeWidth":1.2},"encoding":{"x":{"field":"t0","type":"quantitative"},"x2":{"field":"t1"},"y":{"datum":5.9}}},
{"data":{"name":"cCore"},"mark":{"type":"area","fill":"#6a8cb2"},"encoding":{"x":{"field":"t","type":"quantitative"},"y":{"field":"upper","type":"quantitative"},"y2":{"field":"lower"},"detail":{"field":"seg","type":"nominal"}}},
{"data":{"name":"c"},"mark":{"type":"area","fill":"#6a8cb2","stroke":"#6a8cb2","strokeWidth":1},"encoding":{"x":{"field":"t","type":"quantitative"},"y":{"field":"hi","type":"quantitative"},"y2":{"field":"lo"}}},
{"data":{"values":[{"t0":638,"t1":748}]},"mark":{"type":"rect","fill":"#7791b3","opacity":0.32},"encoding":{"x":{"field":"t0","type":"quantitative"},"x2":{"field":"t1"},"y":{"datum":-0.32},"y2":{"datum":6.41}}},
{"data":{"values":[{"t":750,"v":6.31,"label":"May 2nd"},{"t":750,"v":6.06,"label":"11:37:06am"}]},"mark":{"type":"text","font":"DejaVu Sans","fontSize":12.5,"color":"#4d4d4d","align":"center","baseline":"middle","clip":true},"encoding":{"x":{"field":"t","type":"quantitative"},"y":{"field":"v","type":"quantitative"},"text":{"field":"label"}}},
{"data":{"values":[{"t":1577,"v":6.31,"label":"May 2nd"},{"t":1577,"v":6.06,"label":"1:53:38pm"}]},"mark":{"type":"text","font":"DejaVu Sans","fontSize":12.5,"color":"#4d4d4d","align":"right","baseline":"middle","clip":true},"encoding":{"x":{"field":"t","type":"quantitative"},"y":{"field":"v","type":"quantitative"},"text":{"field":"label"}}},
{"data":{"values":[{"t":637,"v":6.07},{"t":748,"v":6.07}]},"mark":{"type":"point","filled":true,"opacity":1,"color":"#2f6596","size":360,"shape":"M0,-1 C0.45,-0.6 0.45,0.2 0.22,0.9 L0,1 L-0.22,0.9 C-0.45,0.2 -0.45,-0.6 0,-1Z"},"encoding":{"x":{"field":"t","type":"quantitative"},"y":{"field":"v","type":"quantitative"}}},
{"data":{"values":[{"t":637,"v":5.6},{"t":748,"v":5.6}]},"mark":{"type":"point","filled":true,"opacity":1,"color":"#2a5f90","size":340,"shape":"M0,-1 C0.25,-0.5 0.75,-0.2 0.75,0.3 A0.75,0.75 0 1 1 -0.75,0.3 C-0.75,-0.2 -0.25,-0.5 0,-1Z"},"encoding":{"x":{"field":"t","type":"quantitative"},"y":{"field":"v","type":"quantitative"}}},
{"data":{"values":[{"t":637,"v":5.55},{"t":748,"v":5.55}]},"mark":{"type":"point","filled":true,"opacity":1,"color":"#b8c2cc","size":28,"shape":"circle"},"encoding":{"x":{"field":"t","type":"quantitative"},"y":{"field":"v","type":"quantitative"}}},
{"data":{"values":[{"t0":0,"t1":41}]},"mark":{"type":"rule","color":"#555","strokeWidth":2},"encoding":{"x":{"field":"t0","type":"quantitative"},"x2":{"field":"t1"},"y":{"datum":-0.26}}}
]}
],
"config":{"view":{"stroke":null},"title":{"baseline":"alphabetic"}}}
